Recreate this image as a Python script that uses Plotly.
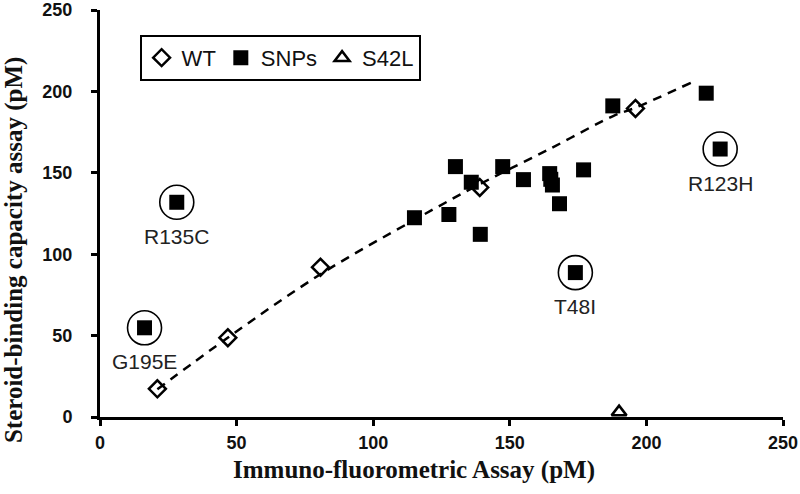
import plotly.graph_objects as go

# ---- data ----
wt_x = [21.0, 46.8, 80.7, 139.0, 196.0]
wt_y = [17.3, 48.7, 92.0, 141.0, 189.5]

snp_x = [16.3, 28.1, 115.1, 127.7, 130.1, 135.9, 139.2, 147.4, 155.0,
         164.6, 165.0, 165.6, 168.2, 174.0, 177.0, 187.7, 221.9, 227.0]
snp_y = [54.8, 131.9, 122.4, 124.4, 153.8, 144.2, 112.2, 153.8, 145.8,
         149.5, 146.0, 142.5, 131.0, 88.7, 151.8, 191.1, 198.9, 164.6]

s42l_x = [190.0]
s42l_y = [3.0]

# trend line (dashed) points
trend_x = [21, 47, 81, 115, 139, 165, 188, 196, 216.4]
trend_y = [17, 49, 88, 121, 143, 165, 185, 190, 205.4]

# highlighted (circled) SNPs
hl_labels = ["G195E", "R135C", "T48I", "R123H"]
hl_x = [16.3, 28.1, 174.0, 227.0]
hl_y = [54.8, 131.9, 88.7, 164.6]

x_ticks = [0, 50, 100, 150, 200, 250]
y_ticks = [0, 50, 100, 150, 200, 250]

SANS = "Liberation Sans, Arial, sans-serif"
SERIF = "Liberation Serif, Times New Roman, serif"

fig = go.Figure()

fig.add_trace(go.Scatter(
    x=trend_x, y=trend_y, mode="lines", line_shape="spline",
    line=dict(color="black", width=2.5, dash="9px,7px"),
    showlegend=False, hoverinfo="skip"))

fig.add_trace(go.Scatter(
    x=hl_x, y=hl_y, mode="markers",
    marker=dict(symbol="circle-open", size=34, color="black",
                line=dict(width=1.6, color="black")),
    showlegend=False, hoverinfo="skip"))

fig.add_trace(go.Scatter(
    x=wt_x, y=wt_y, mode="markers", name="WT",
    marker=dict(symbol="diamond-open", size=13, color="black",
                line=dict(width=2.5, color="black"))))

fig.add_trace(go.Scatter(
    x=snp_x, y=snp_y, mode="markers", name="SNPs",
    marker=dict(symbol="square", size=15, color="black",
                line=dict(width=0))))

fig.add_trace(go.Scatter(
    x=s42l_x, y=s42l_y, mode="markers", name="S42L",
    marker=dict(symbol="triangle-up-open", size=13, color="black",
                line=dict(width=2.5, color="black"))))

for lab, lx, ly in zip(hl_labels, hl_x, hl_y):
    fig.add_annotation(x=lx, y=ly, text=lab, showarrow=False, yshift=-34,
                       font=dict(family=SANS, size=21, color="#222"))

# axis titles
fig.add_annotation(xref="paper", yref="paper", x=0.46, y=-0.129,
                   text="Immuno-fluorometric Assay (pM)", showarrow=False,
                   xanchor="center", yanchor="middle",
                   font=dict(family=SERIF, size=25, color="#111", weight="bold"))
fig.add_annotation(xref="paper", yref="paper", x=-0.126, y=0.41,
                   text="Steroid-binding capacity assay (pM)", showarrow=False,
                   textangle=-90, xanchor="center", yanchor="middle",
                   font=dict(family=SERIF, size=25, color="#111", weight="bold"))

axis_common = dict(
    showgrid=False, zeroline=False, showline=True, linecolor="black",
    linewidth=3, ticks="outside", ticklen=6, tickwidth=2.5, tickcolor="black",
    tickfont=dict(family=SANS, size=18, color="#111", weight="bold"),
    automargin=False,
)

fig.update_xaxes(range=[0, 250], tickvals=x_ticks,
                 ticktext=[str(v) for v in x_ticks],
                 ticklabelstandoff=1, **axis_common)
fig.update_yaxes(range=[0, 250], tickvals=y_ticks,
                 ticktext=[str(v) for v in y_ticks],
                 ticklabelstandoff=15, **axis_common)

fig.update_layout(
    width=800, height=494,
    margin=dict(l=100, r=17, t=10, b=77),
    plot_bgcolor="white", paper_bgcolor="white",
    legend=dict(orientation="h", x=0.058, y=0.939, xanchor="left",
                yanchor="top", bordercolor="black", borderwidth=2,
                bgcolor="white",
                font=dict(family=SANS, size=22, color="#111")),
)

fig.write_html("out.html",
               config={"displayModeBar": False},
               post_script="document.body.style.margin='0';"
                           "document.body.style.overflow='hidden';")
